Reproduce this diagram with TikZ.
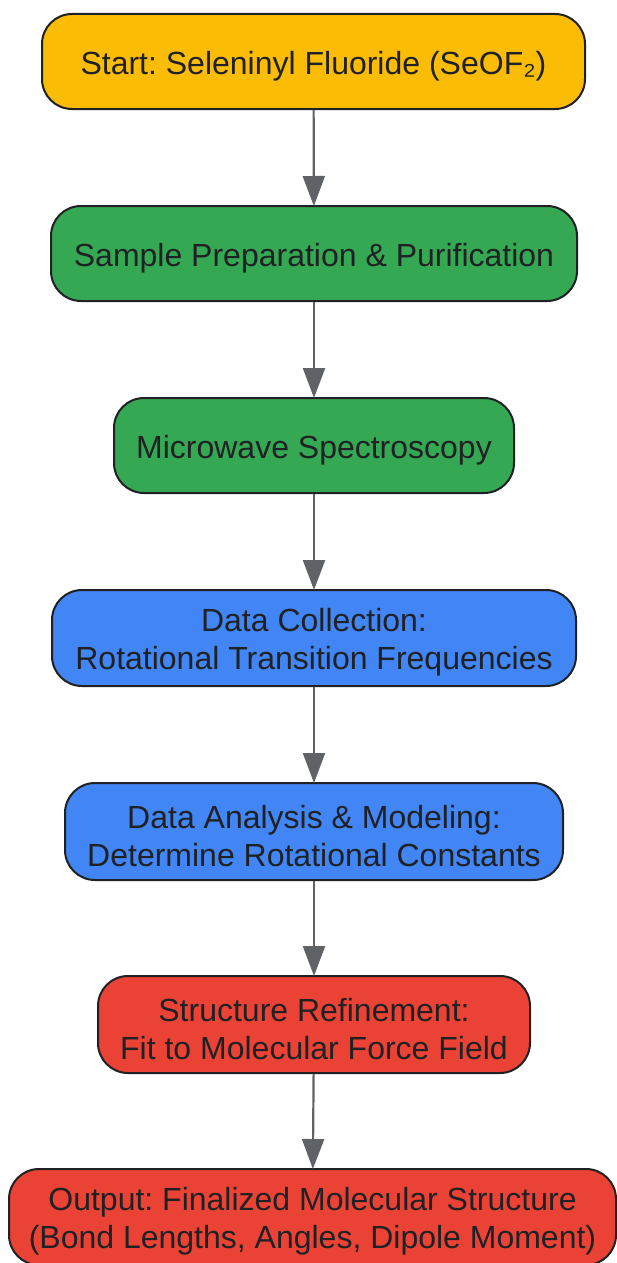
\documentclass[tikz,border=0pt]{standalone}
\usepackage{fontspec}
\setmainfont{Liberation Sans}
\usetikzlibrary{arrows.meta}
\definecolor{cyel}{HTML}{FBBC05}
\definecolor{cgrn}{HTML}{34A853}
\definecolor{cblu}{HTML}{4285F4}
\definecolor{cred}{HTML}{EA4335}
\definecolor{ctxt}{HTML}{202124}
\definecolor{carr}{HTML}{5F6368}
\frenchspacing
\begin{document}
\begin{tikzpicture}[x=1pt,y=-1pt,
  box/.style={draw=ctxt, line width=2pt, rounded corners=30pt, inner sep=0pt},
  txt/.style={inner sep=0pt, text=ctxt, align=center, yshift=-4.5pt, font=\fontsize{32}{38}\selectfont},
  flow/.style={draw=carr, line width=2.2pt, -{Triangle[width=22pt,length=30pt]}, shorten >=-1pt}]
\useasboundingbox (0,0) rectangle (617,1263);
\node[box, fill=cyel, minimum width=543pt, minimum height=95pt] (n1) at (313.5,61.5) {};
\node[txt] (t1) at (n1.center) {Start: Seleninyl Fluoride (SeOF₂)};
\node[box, fill=cgrn, minimum width=526pt, minimum height=95pt] (n2) at (314,253.5) {};
\node[txt] (t2) at (n2.center) {Sample Preparation \& Purification};
\node[box, fill=cgrn, minimum width=400pt, minimum height=95pt] (n3) at (314,445.5) {};
\node[txt] (t3) at (n3.center) {Microwave Spectroscopy};
\node[box, fill=cblu, minimum width=524pt, minimum height=96pt] (n4) at (314,638) {};
\node[txt] (t4) at (n4.center) {Data Collection:\\Rotational Transition Frequencies};
\node[box, fill=cblu, minimum width=498pt, minimum height=97pt] (n5) at (314,831.5) {};
\node[txt] (t5) at (n5.center) {Data Analysis \& Modeling:\\Determine Rotational Constants};
\node[box, fill=cred, minimum width=432pt, minimum height=97pt] (n6) at (314,1024.5) {};
\node[txt] (t6) at (n6.center) {Structure Refinement:\\Fit to Molecular Force Field};
\node[box, fill=cred, minimum width=607pt, minimum height=96pt] (n7) at (312.5,1217) {};
\node[txt] (t7) at (n7.center) {Output: Finalized Molecular Structure\\(Bond Lengths, Angles, Dipole Moment)};
\draw[flow] (n1) -- (n2);
\draw[flow] (n2) -- (n3);
\draw[flow] (n3) -- (n4);
\draw[flow] (n4) -- (n5);
\draw[flow] (n5) -- (n6);
\draw[flow] (n6) -- (n7);
\end{tikzpicture}
\end{document}
